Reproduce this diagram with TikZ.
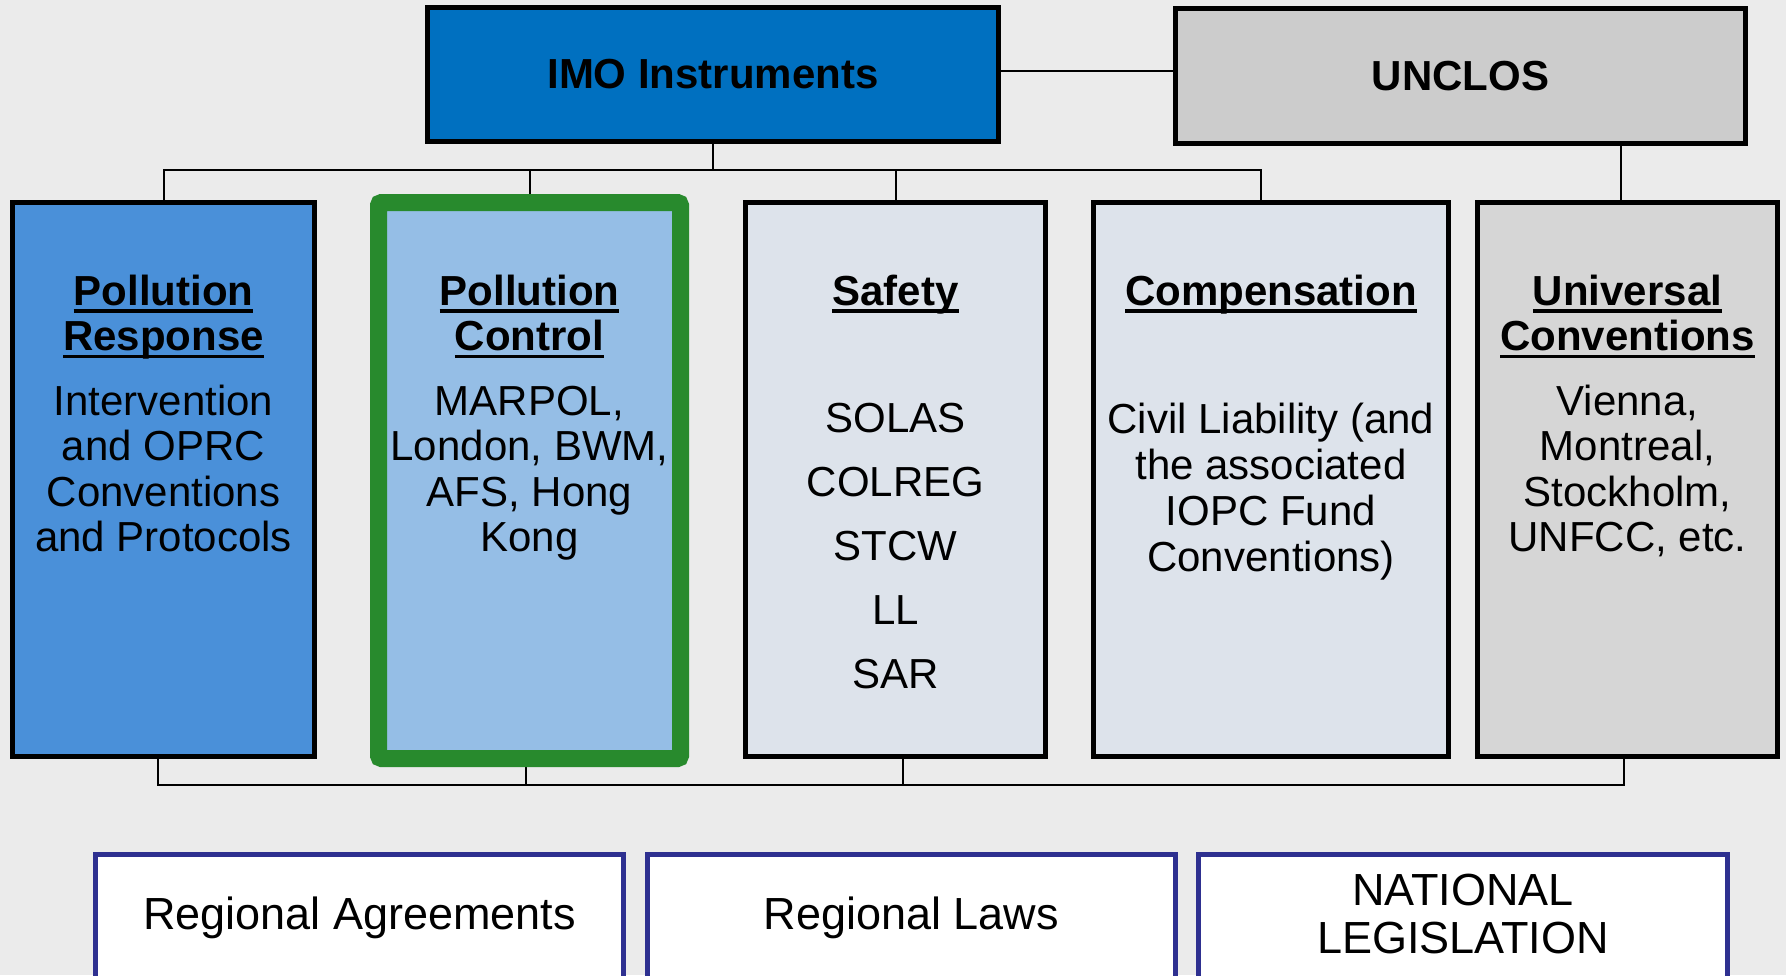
\documentclass[tikz,border=0pt]{standalone}
\usepackage{fontspec}
\setmainfont{Liberation Sans}
\usetikzlibrary{backgrounds}
\definecolor{bgc}{HTML}{EBEBEB}
\definecolor{imoc}{HTML}{0070C0}
\definecolor{unc}{HTML}{CCCCCC}
\definecolor{prc}{HTML}{4A90D9}
\definecolor{pcc}{HTML}{95BEE6}
\definecolor{sfc}{HTML}{DDE3EB}
\definecolor{uvc}{HTML}{D6D6D6}
\definecolor{grn}{HTML}{288A2D}
\definecolor{navy}{HTML}{2E3090}
\newsavebox\ulbox
\newcommand\hul[1]{\sbox\ulbox{#1}\leavevmode\rlap{\vrule width\wd\ulbox height -4pt depth 7.5pt}\usebox\ulbox}
\newcommand\sx{\vrule width0pt height31pt depth9pt\relax}
\begin{document}
\begin{tikzpicture}[x=1pt,y=-1pt,
  box/.style={draw=black,line width=5pt,inner sep=0pt},
  lowbox/.style={draw=navy,line width=5.5pt,fill=white,inner sep=0pt,minimum width=528,minimum height=170,anchor=north},
  conn/.style={draw=black,line width=2pt},
  body/.style={align=center,inner sep=0pt,font=\fontsize{42}{45.6}\selectfont},
  hdr/.style={align=center,inner sep=0pt,font=\fontsize{42}{45.7}\selectfont\bfseries},
  low/.style={align=center,inner sep=0pt,font=\fontsize{45}{47.6}\selectfont}]
\begin{pgfonlayer}{background}
\fill[bgc] (0,0) rectangle (1786,975);
\end{pgfonlayer}
\useasboundingbox (0,0) rectangle (1786,975);
% top boxes
\node[box,fill=imoc,minimum width=571,minimum height=134,font=\fontsize{42}{45}\selectfont\bfseries] (imo) at (713,74.5) {IMO Instruments};
\node[box,fill=unc,minimum width=570,minimum height=135,font=\fontsize{42}{45}\selectfont\bfseries] (unclos) at (1460.5,76) {UNCLOS};
% category boxes
\node[box,fill=prc,minimum width=302,minimum height=554] (pr) at (163.5,479.5) {};
\node[draw=grn,line width=17pt,rounded corners=3pt,fill=pcc,minimum width=302,minimum height=556,inner sep=0pt] (pc) at (529.5,480.5) {};
\node[box,fill=sfc,minimum width=300,minimum height=554] (sf) at (895.5,479.5) {};
\node[box,fill=sfc,minimum width=355,minimum height=554] (cp) at (1271,479.5) {};
\node[box,fill=uvc,minimum width=300,minimum height=554] (uv) at (1627.5,479.5) {};
% texts
\node[hdr] (prh) at (163.5,316.85) {\sx\hul{Pollution}\\\hul{Response}\sx};
\node[body] (prb) at (163.5,472.4) {\sx Intervention\\and OPRC\\Conventions\\and Protocols\sx};
\node[hdr] (pch) at (529.5,316.85) {\sx\hul{Pollution}\\\hul{Control}\sx};
\node[body] (pcb) at (529.5,472.4) {\sx MARPOL,\\London, BWM,\\AFS, Hong\\Kong\sx};
\node[hdr] (sfh) at (895.5,294) {\sx\hul{Safety}\sx};
\node[body,font=\fontsize{42}{64}\selectfont] (sfb) at (895.5,549.7) {\sx SOLAS\\COLREG\\STCW\\LL\\SAR\sx};
\node[hdr] (cph) at (1271,294) {\sx\hul{Compensation}\sx};
\node[body,font=\fontsize{42}{46}\selectfont] (cpb) at (1271,491) {\sx Civil Liability (and\\the associated\\IOPC Fund\\Conventions)\sx};
\node[hdr] (uvh) at (1627.5,316.85) {\sx\hul{Universal}\\\hul{Conventions}\sx};
\node[body] (uvb) at (1627.5,472.4) {\sx Vienna,\\Montreal,\\Stockholm,\\UNFCC, etc.\sx};
% bottom boxes
\node[lowbox] (ra) at (359.5,851.75) {};
\node[lowbox] (rl) at (911.5,851.75) {};
\node[lowbox,minimum width=529] (nl) at (1463,851.75) {};
\node[low] (rat) at (359.5,918.3) {\sx Regional Agreements\sx};
\node[low] (rlt) at (911.5,918.3) {\sx Regional Laws\sx};
\node[low] (nlt) at (1463,918.5) {\sx NATIONAL\\LEGISLATION\sx};
% connectors
\begin{pgfonlayer}{background}
\coordinate (bus) at (713,170);
\coordinate (lbus) at (0,785);
\draw[conn] (imo.south) -- (bus);
\draw[conn] (pr.north) |- (bus) -| ([xshift=-10pt]cp.north);
\draw[conn] (pc.north) -- (pc.north |- bus);
\draw[conn] (sf.north) -- (sf.north |- bus);
\coordinate (ie) at ([yshift=3.8pt]imo.east);
\draw[conn] (ie) -- (ie -| unclos.west);
\draw[conn] ([xshift=160.5pt]unclos.south) -- ([xshift=-6.5pt]uv.north);
\coordinate (d1) at ([xshift=-5.5pt]pr.south);
\coordinate (d2) at ([xshift=-3.5pt]pc.south);
\coordinate (d3) at ([xshift=7.5pt]sf.south);
\coordinate (d4) at ([xshift=-3.5pt]uv.south);
\draw[conn] (d1) |- (d4 |- lbus) -- (d4);
\draw[conn] (d2) -- (d2 |- lbus);
\draw[conn] (d3) -- (d3 |- lbus);
\end{pgfonlayer}
\end{tikzpicture}
\end{document}
